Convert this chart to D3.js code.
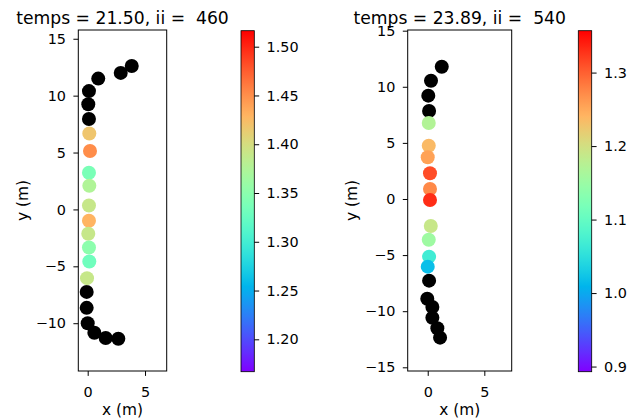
<!DOCTYPE html>
<html><head><meta charset="utf-8">
<script src="https://cdn.jsdelivr.net/npm/d3@7"></script>
<style>
html,body{margin:0;padding:0;background:#fff;}
svg text{font-family:"DejaVu Sans",sans-serif;fill:#000;}
</style></head><body>
<svg id="chart" width="639" height="419"></svg>
<script>
// ---- Panel 1: temps = 21.50, ii = 460 ----
const title1 = "temps = 21.50, ii =  460";
const idleX1 = [3.84, 2.88, 0.92, 0.11, 0.05, 0.11, -0.09, -0.09, 0.00, 0.58, 1.57, 2.67];
const idleY1 = [12.6, 12.0, 11.5, 10.4, 9.25, 7.95, -7.25, -8.65, -10.0, -10.84, -11.3, -11.37];
const activeX1 = [0.14, 0.20, 0.11, 0.14, 0.11, 0.11, 0.05, 0.11, 0.14, -0.06];
const activeY1 = [6.68, 5.13, 3.22, 2.08, 0.35, -1.0, -2.14, -3.34, -4.57, -6.04];
const value1 = [1.418, 1.451, 1.338, 1.375, 1.390, 1.429, 1.390, 1.350, 1.331, 1.390];
const xLim1 = [-0.82, 6.89], yLim1 = [-14.2, 15.77], cLim1 = [1.1668, 1.5164];
const yTicks1 = [-10, -5, 0, 5, 10, 15];
const cTicks1 = [1.20, 1.25, 1.30, 1.35, 1.40, 1.45, 1.50];

// ---- Panel 2: temps = 23.89, ii = 540 ----
const title2 = "temps = 23.89, ii =  540";
const idleX2 = [1.24, 0.29, 0.05, 0.12, 0.12, -0.04, 0.41, 0.41, 0.85, 1.09];
const idleY2 = [11.79, 10.54, 9.21, 7.84, -7.28, -8.89, -9.63, -10.58, -11.52, -12.36];
const activeX2 = [0.09, 0.09, 0.00, 0.20, 0.20, 0.20, 0.27, 0.09, 0.12, 0.00];
const activeY2 = [6.77, 4.75, 3.72, 2.29, 0.89, -0.09, -2.41, -3.63, -5.14, -6.03];
const value2 = [1.171, 1.236, 1.255, 1.312, 1.273, 1.331, 1.190, 1.153, 1.067, 1.018];
const xLim2 = [-1.77, 7.42], yLim2 = [-15.33, 15.06], cLim2 = [0.893, 1.357];
const yTicks2 = [-15, -10, -5, 0, 5, 10, 15];
const cTicks2 = [0.9, 1.0, 1.1, 1.2, 1.3];

const xTicks = [0, 5];

const svg = d3.select("#chart");
const FS_TICK = 14.4, FS_LABEL = 15.4, FS_TITLE = 17.2;
const TICK = 4.9, PAD = 7.4, R = 7;

// matplotlib-style "rainbow" colormap
function rainbow(t) {
  t = Math.max(0, Math.min(1, t));
  const r = Math.min(1, Math.abs(2 * t - 0.5));
  const g = Math.sin(Math.PI * t);
  const b = Math.cos(Math.PI * t / 2);
  return d3.rgb(r * 255, g * 255, b * 255).formatHex();
}

function styleAxis(g) {
  g.select(".domain").remove();
  g.selectAll(".tick line").attr("stroke", "#000").attr("stroke-width", 1);
  g.selectAll(".tick text").attr("font-size", FS_TICK).attr("font-family", "DejaVu Sans").attr("fill", "#000");
  g.attr("font-size", null).attr("font-family", null);
}

function drawPanel(p, box, cb, id) {
  const x = d3.scaleLinear().domain(p.xLim).range([box.x0, box.x1]);
  const y = d3.scaleLinear().domain(p.yLim).range([box.y1, box.y0]);
  const c = d3.scaleLinear().domain(p.cLim).range([0, 1]);

  const g = svg.append("g");
  g.append("clipPath").attr("id", "clip" + id)
    .append("rect").attr("x", box.x0).attr("y", box.y0)
    .attr("width", box.x1 - box.x0).attr("height", box.y1 - box.y0);

  const pts = g.append("g").attr("clip-path", `url(#clip${id})`);
  pts.selectAll("circle.idle").data(p.idleX.map((v, i) => [v, p.idleY[i]]))
    .join("circle").attr("class", "idle")
    .attr("cx", d => x(d[0])).attr("cy", d => y(d[1])).attr("r", R).attr("fill", "#000");
  pts.selectAll("circle.active").data(p.activeX.map((v, i) => [v, p.activeY[i], p.value[i]]))
    .join("circle").attr("class", "active")
    .attr("cx", d => x(d[0])).attr("cy", d => y(d[1])).attr("r", R)
    .attr("fill", d => rainbow(c(d[2])));

  // axes
  const ya = g.append("g").attr("transform", `translate(${box.x0},0)`)
    .call(d3.axisLeft(y).tickValues(p.yTicks).tickSize(TICK).tickPadding(PAD).tickFormat(d3.format("d")));
  styleAxis(ya);
  const xa = g.append("g").attr("transform", `translate(0,${box.y1})`)
    .call(d3.axisBottom(x).tickValues(xTicks).tickSize(TICK).tickPadding(PAD).tickFormat(d3.format("d")));
  styleAxis(xa);
  xa.selectAll(".tick text").attr("y", 25.7).attr("dy", 0);

  g.append("rect").attr("x", box.x0).attr("y", box.y0)
    .attr("width", box.x1 - box.x0).attr("height", box.y1 - box.y0)
    .attr("fill", "none").attr("stroke", "#000").attr("stroke-width", 1);

  const cx = (box.x0 + box.x1) / 2, cy = (box.y0 + box.y1) / 2;
  g.append("text").attr("x", cx).attr("y", 24).attr("text-anchor", "middle")
    .attr("font-size", FS_TITLE).style("white-space", "pre").text(p.title);
  g.append("text").attr("x", cx).attr("y", 414.5).attr("text-anchor", "middle")
    .attr("font-size", FS_LABEL).text("x (m)");
  g.append("text").attr("transform", `translate(${box.x0 - 50.8},${cy}) rotate(-90)`)
    .attr("text-anchor", "middle").attr("font-size", FS_LABEL).text("y (m)");

  // colorbar
  const grad = svg.append("defs").append("linearGradient").attr("id", "grad" + id)
    .attr("x1", 0).attr("y1", 1).attr("x2", 0).attr("y2", 0);
  d3.range(0, 257).forEach(i => {
    grad.append("stop").attr("offset", i / 256).attr("stop-color", rainbow(i / 256));
  });
  g.append("rect").attr("x", cb.x0).attr("y", cb.y0)
    .attr("width", cb.x1 - cb.x0).attr("height", cb.y1 - cb.y0)
    .attr("fill", `url(#grad${id})`).attr("stroke", "#000").attr("stroke-width", 0.8);
  const cs = d3.scaleLinear().domain(p.cLim).range([cb.y1, cb.y0]);
  const ca = g.append("g").attr("transform", `translate(${cb.x1},0)`)
    .call(d3.axisRight(cs).tickValues(p.cTicks).tickSize(TICK).tickPadding(PAD).tickFormat(d3.format(p.cFmt)));
  styleAxis(ca);
}

drawPanel({
  title: title1, idleX: idleX1, idleY: idleY1, activeX: activeX1, activeY: activeY1, value: value1,
  xLim: xLim1, yLim: yLim1, cLim: cLim1, yTicks: yTicks1, cTicks: cTicks1, cFmt: ".2f"
}, {x0: 78.3, x1: 166.7, y0: 30, y1: 371}, {x0: 241, x1: 254.3, y0: 30.7, y1: 371.7}, 1);

drawPanel({
  title: title2, idleX: idleX2, idleY: idleY2, activeX: activeX2, activeY: activeY2, value: value2,
  xLim: xLim2, yLim: yLim2, cLim: cLim2, yTicks: yTicks2, cTicks: cTicks2, cFmt: ".1f"
}, {x0: 407.7, x1: 511.7, y0: 30, y1: 371}, {x0: 578.3, x1: 591.7, y0: 30.7, y1: 371.7}, 2);
</script>
</body></html>
